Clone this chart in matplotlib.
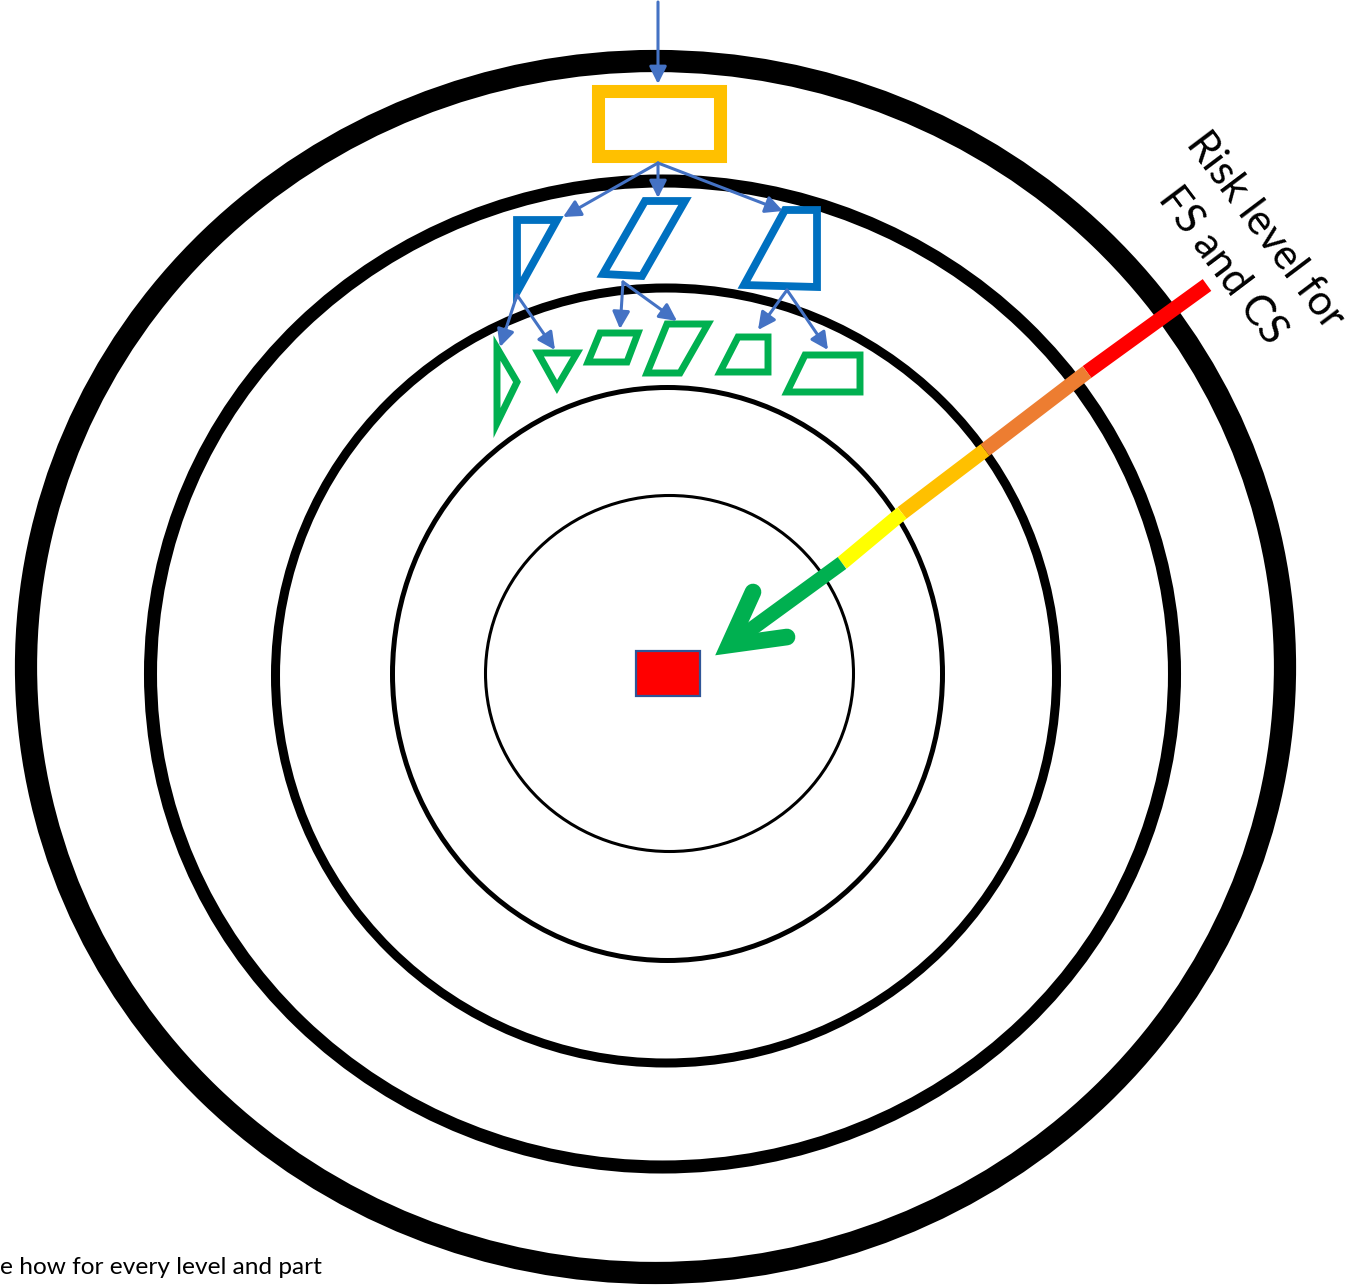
import matplotlib
matplotlib.use("Agg")
import matplotlib.pyplot as plt
from matplotlib.patches import Ellipse, Polygon, Rectangle

# --- diagram data (pixel coordinates of the original drawing) ---
ring_cx = [669.5, 667.5, 666.0, 662.5, 655.5]
ring_cy = [673.5, 674.0, 675.5, 674.0, 667.0]
ring_rx = [184, 275, 390.5, 512, 629.5]
ring_ry = [178, 286.5, 387.5, 493, 606]
ring_lw = [2.2, 3.6, 6.5, 9.4, 16]

top_box = [598, 90.5, 121.5, 65.5]  # x, y, w, h of the yellow box

blue_shapes = [
    [(517, 220), (557, 220), (517, 292)],
    [(645, 201), (685, 201), (642, 276), (603, 274)],
    [(785, 210), (817, 210), (817, 287), (744, 285)],
]
green_shapes = [
    [(497, 348), (517, 382), (497, 423)],
    [(538, 353), (577, 353), (557, 387)],
    [(600, 333), (638, 333), (627, 362), (588, 362)],
    [(667, 324), (708, 324), (680, 373), (647, 373)],
    [(738, 337), (768, 337), (768, 372), (720, 372)],
    [(805, 355), (860, 355), (860, 392), (787, 392)],
]
# (start, end) of the connecting arrows
links = [
    ((658, 2), (658, 84)),
    ((658, 163), (563, 217)),
    ((658, 163), (658, 198)),
    ((658, 163), (783, 211)),
    ((517, 295), (500, 347)),
    ((517, 295), (555, 350)),
    ((623, 282), (620, 329)),
    ((623, 282), (677, 321)),
    ((787, 290), (758, 330)),
    ((787, 290), (828, 350)),
]

# risk scale: boundaries along the bar, outer (red) to inner (green)
risk_pts = [(1207, 285), (1087, 372), (985, 450), (902, 513), (842, 563), (735, 641)]
risk_colors = ["#FF0000", "#ED7D31", "#FFC000", "#FFFF00", "#00B050"]
arrow_tip = (729, 645)
arrow_wings = [(753, 592), (787, 637)]

target = (636, 651, 64, 45)  # red square at the centre

# --- figure ---
W, H = 1350, 1287
fig = plt.figure(figsize=(W / 100, H / 100), dpi=100)
ax = fig.add_axes([0, 0, 1, 1])
ax.set_xlim(0, W)
ax.set_ylim(H, 0)
ax.axis("off")

for cx, cy, rx, ry, lw in zip(ring_cx, ring_cy, ring_rx, ring_ry, ring_lw):
    ax.add_patch(Ellipse((cx, cy), 2 * rx, 2 * ry, fill=False, ec="black", lw=lw))

bx, by, bw, bh = top_box
ax.add_patch(Rectangle((bx, by), bw, bh, fill=False, ec="#FFC000", lw=9.4, joinstyle="miter"))

for pts in blue_shapes:
    ax.add_patch(Polygon(pts, closed=True, fill=False, ec="#0070C0", lw=5.6, joinstyle="miter"))
for pts in green_shapes:
    ax.add_patch(Polygon(pts, closed=True, fill=False, ec="#00B050", lw=5, joinstyle="miter"))

for (x0, y0), (x1, y1) in links:
    ax.annotate("", xy=(x1, y1), xytext=(x0, y0),
                arrowprops=dict(arrowstyle="-|>", color="#4472C4", lw=2.2,
                                mutation_scale=26, shrinkA=0, shrinkB=0))

# coloured risk bar
for i, c in enumerate(risk_colors):
    (x0, y0), (x1, y1) = risk_pts[i], risk_pts[i + 1]
    ax.plot([x0, x1], [y0, y1], color=c, lw=10.5, solid_capstyle="butt", zorder=3)
# open arrow head of the green segment
ax.plot([arrow_wings[0][0], arrow_tip[0], arrow_wings[1][0]],
        [arrow_wings[0][1], arrow_tip[1], arrow_wings[1][1]],
        color="#00B050", lw=12, solid_capstyle="round", solid_joinstyle="miter", zorder=3)

tx, ty, tw, th = target
ax.add_patch(Rectangle((tx, ty), tw, th, fc="#FF0000", ec="#2F5597", lw=1.6, zorder=4))

font = "Lato"
ax.text(1265, 231, "Risk level for", rotation=-53, rotation_mode="anchor",
        ha="center", va="center", fontsize=30, family=font)
ax.text(1222, 266, "FS and CS", rotation=-53, rotation_mode="anchor",
        ha="center", va="center", fontsize=30, family=font)

ax.text(0, 1274, "e how for every level and part", ha="left", va="baseline",
        fontsize=17.6, family=font)

fig.savefig("out.png", dpi=100)
